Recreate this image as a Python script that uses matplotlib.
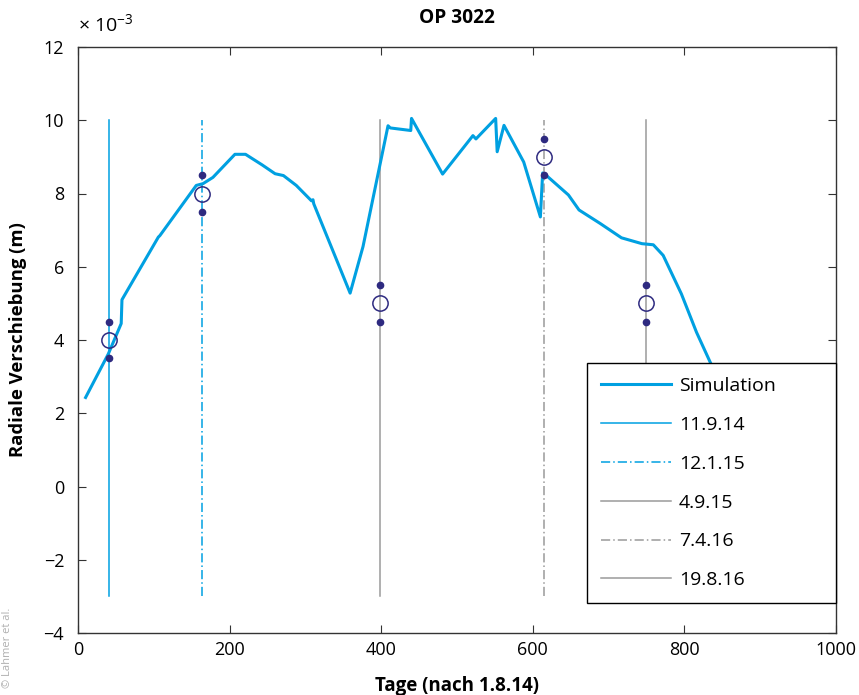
import numpy as np
import matplotlib
matplotlib.use('Agg')
import matplotlib.pyplot as plt

plt.rcParams['font.family'] = ['Open Sans', 'DejaVu Sans']

# Simulation (Tage, Verschiebung in 1e-3 m)
sim_tage = [10, 40, 57, 58, 106, 108, 156, 165, 178, 207, 221, 243, 260, 271, 288,
            308, 310, 311, 359, 376, 409, 412, 439, 440, 481, 521, 525, 551, 553,
            562, 588, 610, 613, 618, 647, 661, 689, 717, 744, 759, 772, 796, 816,
            835, 850]
sim_wert = [2.43, 3.62, 4.45, 5.1, 6.81, 6.85, 8.22, 8.27, 8.44, 9.07, 9.07, 8.78,
            8.54, 8.49, 8.22, 7.8, 7.83, 7.72, 5.28, 6.55, 9.85, 9.79, 9.72, 10.05,
            8.53, 9.58, 9.49, 10.05, 9.14, 9.86, 8.86, 7.36, 8.56, 8.49, 7.96, 7.55,
            7.18, 6.79, 6.63, 6.6, 6.31, 5.26, 4.21, 3.35, 2.6]

# Messungen
mess_labels = ['11.9.14', '12.1.15', '4.9.15', '7.4.16', '19.8.16']
mess_tage = [41, 164, 399, 615, 749]
mess_mittel = [4.0, 8.0, 5.0, 9.0, 5.0]
mess_streu = [0.5, 0.5, 0.5, 0.5, 0.5]

blau = '#00a0e1'
grau = '#9a9a9a'
navy = '#2e2a80'
farben = [blau, blau, grau, grau, grau]
stile = ['-', (0, (6, 2, 1, 2)), '-', (0, (6, 2, 1, 2)), '-']

fig = plt.figure(figsize=(8.59, 6.95), dpi=100)
ax = fig.add_axes([78 / 859, 1 - 633 / 695, 758 / 859, 586 / 695])

ax.plot(sim_tage, sim_wert, color=blau, lw=2.2, label='Simulation', zorder=3)
for t, lab, c, ls in zip(mess_tage, mess_labels, farben, stile):
    ax.plot([t, t], [-3, 10], color=c, ls=ls, lw=1.1, label=lab, zorder=2)

m = np.array(mess_mittel)
s = np.array(mess_streu)
ax.plot(mess_tage, m, 'o', ms=11, mfc='none', mec=navy, mew=1.1, zorder=4)
ax.plot(mess_tage, m + s, 'o', ms=4.5, color=navy, zorder=4)
ax.plot(mess_tage, m - s, 'o', ms=4.5, color=navy, zorder=4)

ax.set_xlim(0, 1000)
ax.set_ylim(-4, 12)
ax.set_xticks(range(0, 1001, 200))
ax.set_yticks(range(-4, 13, 2))
ax.set_yticklabels(['\u22124', '\u22122', '0', '2', '4', '6', '8', '10', '12'])
ax.tick_params(direction='in', top=True, right=True, labelsize=13, length=6,
               width=0.8, colors='#333333', labelcolor='black')
ax.tick_params(axis='y', pad=10)
ax.tick_params(axis='x', pad=6)
for sp in ax.spines.values():
    sp.set_color('#333333')
    sp.set_linewidth(1.0)

ax.set_title('OP 3022', fontsize=13.8, fontweight='bold', pad=17)
ax.set_xlabel('Tage (nach 1.8.14)', fontsize=13.5, fontweight='bold', labelpad=12)
ax.set_ylabel('Radiale Verschiebung (m)', fontsize=13.3, fontweight='bold', labelpad=12)
fig.text(78 / 859, 1 - 32 / 695, '\u00d7 10$^{\\mathregular{-3}}$', fontsize=14,
         va='baseline', ha='left')
fig.text(8 / 859, 1 - 648 / 695, '\u00a9 Lahmer et al.', fontsize=8, color='#b0b0b0',
         rotation=90, ha='center', va='center')

x0 = (587 - 78) / 758
leg = ax.legend(loc='lower left', bbox_to_anchor=(x0, 0.051, 1 - x0, 0.411),
                mode='expand', borderaxespad=0, fontsize=14, labelspacing=1.07,
                handlelength=3.6, handletextpad=0.4, borderpad=0.72,
                fancybox=False, framealpha=1)
leg.get_frame().set_edgecolor('black')
leg.get_frame().set_linewidth(1.0)

plt.savefig('out.png', dpi=100)
